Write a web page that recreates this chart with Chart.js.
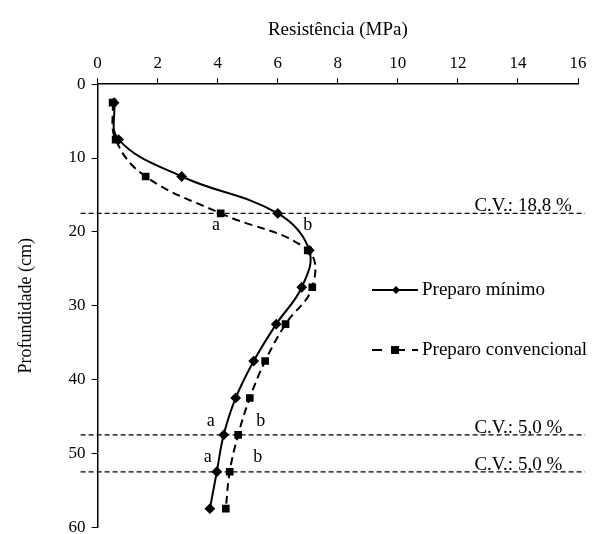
<!DOCTYPE html>
<html>
<head>
<meta charset="utf-8">
<script src="https://cdn.jsdelivr.net/npm/chart.js@4"></script>
<style>
  html, body { margin: 0; padding: 0; background: #fff; }
  #wrap { width: 597px; height: 534px; }
</style>
</head>
<body>
<div id="wrap"><canvas id="grafico"></canvas></div>
<script>
// profundidade das camadas (cm)
const depths = [2.5, 7.5, 12.5, 17.5, 22.5, 27.5, 32.5, 37.5, 42.5, 47.5, 52.5, 57.5];
// resistencia a penetracao (MPa)
const preparoMinimo = [0.55, 0.7, 2.8, 6.0, 7.05, 6.8, 5.95, 5.2, 4.6, 4.2, 3.97, 3.74];
const preparoConvencional = [0.5, 0.6, 1.6, 4.1, 7.0, 7.15, 6.26, 5.58, 5.07, 4.68, 4.4, 4.27];
const seriesNames = ['Preparo mínimo', 'Preparo convencional'];

// linhas de C.V.
const cvDepths = [17.5, 47.5, 52.5];
const cvLabels = ['C.V.: 18,8 %', 'C.V.: 5,0 %', 'C.V.: 5,0 %'];

// letras de comparacao
const letters = ['a', 'b', 'a', 'b', 'a', 'b'];
const letterX = [3.94, 7.0, 3.77, 5.43, 3.67, 5.33];
const letterY = [19.1, 19.1, 45.7, 45.7, 50.6, 50.6];

const xTicks = [0, 2, 4, 6, 8, 10, 12, 14, 16];
const yTicks = [0, 10, 20, 30, 40, 50, 60];

const serif = 'Liberation Serif';

const toPoints = vals => vals.map((v, i) => ({ x: v, y: depths[i] }));

const extras = {
  id: 'extras',
  afterDatasetsDraw(chart) {
    const { ctx, chartArea, scales } = chart;
    const x = scales.x, y = scales.y;
    ctx.save();
    // linhas tracejadas de C.V.
    ctx.strokeStyle = '#000';
    ctx.lineWidth = 1.2;
    ctx.setLineDash([5, 3]);
    ctx.font = '19px "' + serif + '"';
    ctx.fillStyle = '#000';
    cvDepths.forEach((d, i) => {
      const py = y.getPixelForValue(d);
      ctx.beginPath();
      ctx.moveTo(chartArea.left - 17, py);
      ctx.lineTo(chartArea.right + 7, py);
      ctx.stroke();
      ctx.textAlign = 'left';
      ctx.textBaseline = 'alphabetic';
      ctx.fillText(cvLabels[i], x.getPixelForValue(12.55), py - 2);
    });
    ctx.setLineDash([]);
    // letras
    ctx.font = '18px "' + serif + '"';
    ctx.textAlign = 'center';
    ctx.textBaseline = 'middle';
    letters.forEach((l, i) => {
      ctx.fillText(l, x.getPixelForValue(letterX[i]), y.getPixelForValue(letterY[i]));
    });
    // legenda
    const lx = 372, ly = [290, 350];
    ctx.font = '19px "' + serif + '"';
    ctx.textAlign = 'left';
    ctx.lineWidth = 2;
    // solida
    ctx.beginPath();
    ctx.moveTo(lx, ly[0]);
    ctx.lineTo(lx + 46, ly[0]);
    ctx.stroke();
    ctx.beginPath();
    ctx.moveTo(lx + 24, ly[0] - 4);
    ctx.lineTo(lx + 28, ly[0]);
    ctx.lineTo(lx + 24, ly[0] + 4);
    ctx.lineTo(lx + 20, ly[0]);
    ctx.closePath();
    ctx.fill();
    ctx.fillText(seriesNames[0], lx + 50, ly[0]);
    // tracejada
    ctx.beginPath();
    ctx.moveTo(lx, ly[1]);
    ctx.lineTo(lx + 10, ly[1]);
    ctx.moveTo(lx + 26, ly[1]);
    ctx.lineTo(lx + 33, ly[1]);
    ctx.moveTo(lx + 40, ly[1]);
    ctx.lineTo(lx + 46, ly[1]);
    ctx.stroke();
    ctx.fillRect(lx + 19, ly[1] - 4, 8, 8);
    ctx.fillText(seriesNames[1], lx + 50, ly[1]);
    ctx.restore();
  }
};

const ctx = document.getElementById('grafico').getContext('2d');
new Chart(ctx, {
  type: 'line',
  data: {
    datasets: [{
      label: seriesNames[0],
      data: toPoints(preparoMinimo),
      borderColor: '#000',
      backgroundColor: '#000',
      borderWidth: 2,
      pointStyle: 'rectRot',
      pointRadius: 4,
      tension: 0.4,
      fill: false
    }, {
      label: seriesNames[1],
      data: toPoints(preparoConvencional),
      borderColor: '#000',
      backgroundColor: '#000',
      borderWidth: 2,
      borderDash: [8, 5],
      pointStyle: 'rect',
      pointRadius: 4,
      tension: 0.4,
      fill: false
    }]
  },
  options: {
    responsive: true,
    maintainAspectRatio: false,
    animation: false,
    layout: { padding: { top: 15, right: 19, bottom: 0, left: 11 } },
    plugins: {
      legend: { display: false },
      tooltip: { enabled: false }
    },
    scales: {
      x: {
        type: 'linear',
        position: 'top',
        min: 0,
        max: 16,
        afterBuildTicks: axis => { axis.ticks = xTicks.map(v => ({ value: v })); },
        grid: { drawOnChartArea: false, drawTicks: true, tickLength: 6, color: '#000', lineWidth: 1 },
        border: { color: '#000', width: 1.5 },
        ticks: { color: '#000', font: { family: serif, size: 17 }, padding: 4 },
        title: { display: true, text: 'Resistência (MPa)', color: '#000', font: { family: serif, size: 19 }, padding: { bottom: 8 } }
      },
      y: {
        type: 'linear',
        reverse: true,
        min: 0,
        max: 60,
        afterBuildTicks: axis => { axis.ticks = yTicks.map(v => ({ value: v })); },
        grid: { drawOnChartArea: false, drawTicks: true, tickLength: 6, color: '#000', lineWidth: 1 },
        border: { color: '#000', width: 1.5 },
        ticks: { color: '#000', font: { family: serif, size: 17, lineHeight: 0.1 }, padding: 6 },
        title: { display: true, text: 'Profundidade (cm)', color: '#000', font: { family: serif, size: 18 }, padding: { bottom: 26 } }
      }
    }
  },
  plugins: [extras]
});
</script>
</body>
</html>
